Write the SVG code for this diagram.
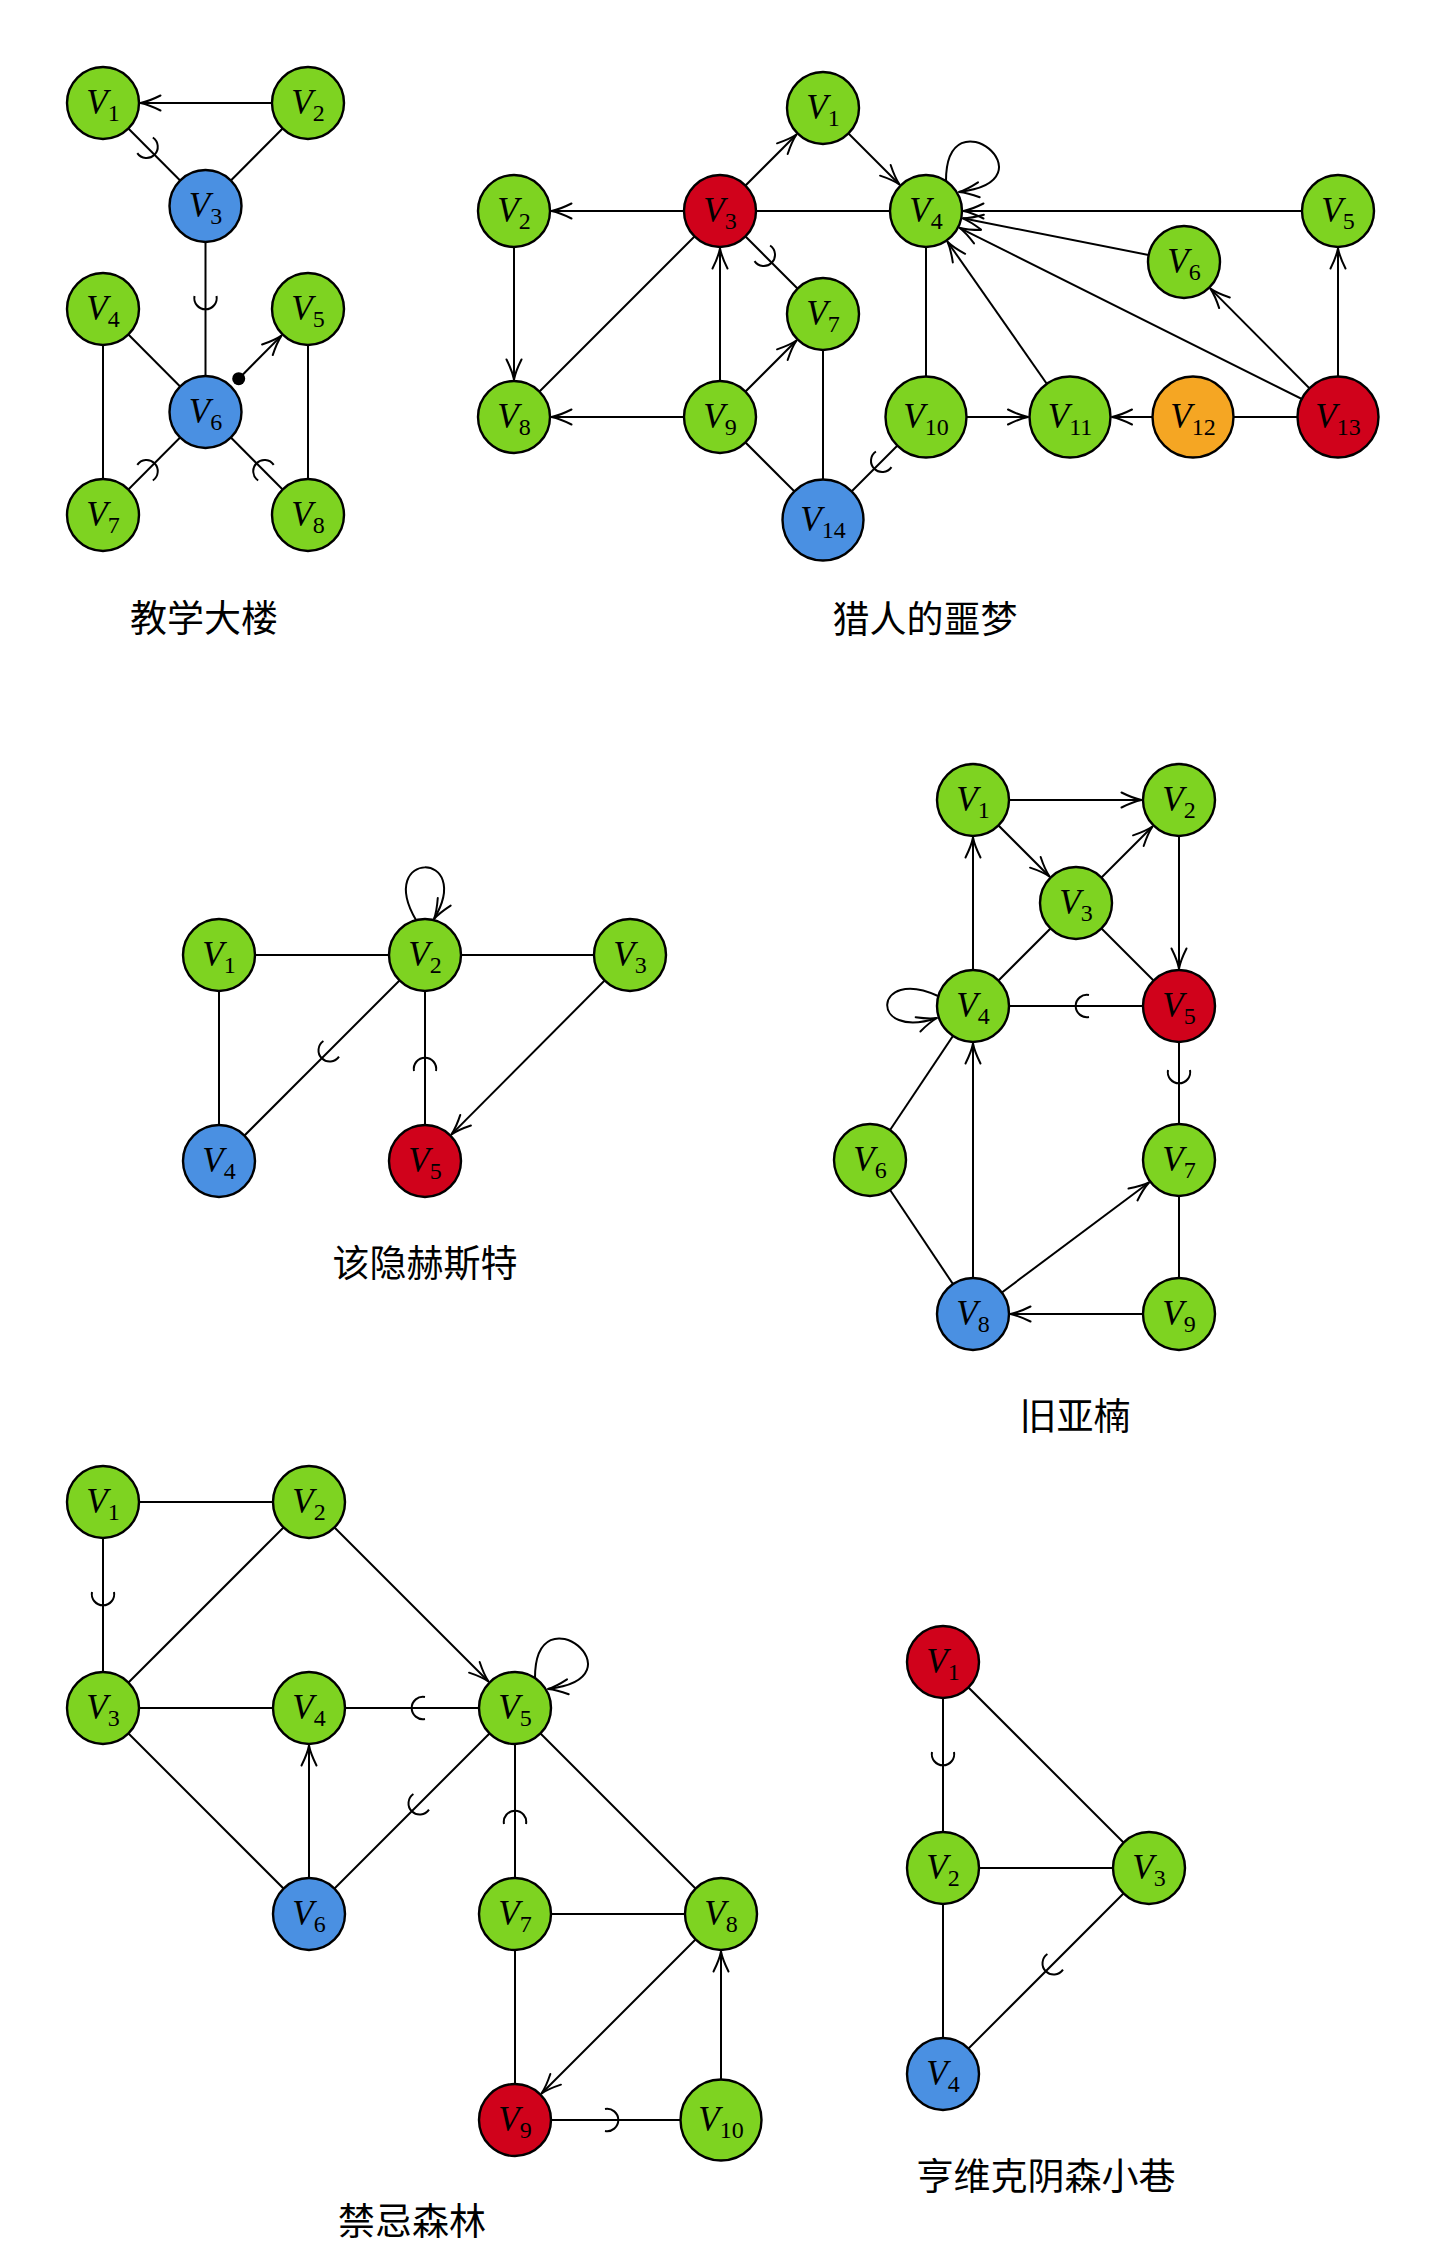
<svg xmlns="http://www.w3.org/2000/svg" width="1440" height="2264" viewBox="0 0 1440 2264">
<style>
.nd{stroke:#000;stroke-width:2.4}
.gr{fill:#7ED321}.bl{fill:#4A90E2}.rd{fill:#D0021B}.or{fill:#F5A623}
.lb{font-family:"Liberation Serif","DejaVu Serif",serif;font-size:35px;font-style:italic;text-anchor:middle;fill:#000}
.sb{font-size:24px;font-style:normal}
.e{stroke:#000;stroke-width:2;fill:none}
.tt{font-family:"Noto Sans CJK SC","Noto Sans",sans-serif;font-size:37px;text-anchor:middle;fill:#000}
</style>
<defs>
<marker id="arr" viewBox="-22 -10 24 20" refX="0" refY="0" markerWidth="24" markerHeight="20" markerUnits="userSpaceOnUse" orient="auto" overflow="visible">
<path d="M-20,-7.5 C-12,-3.5 -4,-0.8 0,0 C-4,0.8 -12,3.5 -20,7.5" fill="none" stroke="#000" stroke-width="2" stroke-linecap="round" stroke-linejoin="round"/>
</marker>
<path id="am" d="M-13,-11 A11.2,11.2 0 1 1 -13,11" fill="none" stroke="#000" stroke-width="2"/>
</defs>
<rect width="1440" height="2264" fill="#fff"/>

<g id="connectors">
<!-- Graph 1 -->
<line class="e" x1="103" y1="103" x2="205.5" y2="206"/>
<line class="e" x1="308" y1="103" x2="205.5" y2="206"/>
<line class="e" x1="205.5" y1="206" x2="205.5" y2="412"/>
<line class="e" x1="103" y1="309" x2="205.5" y2="412"/>
<line class="e" x1="103" y1="309" x2="103" y2="515"/>
<line class="e" x1="308" y1="309" x2="308" y2="515"/>
<line class="e" x1="103" y1="515" x2="205.5" y2="412"/>
<line class="e" x1="308" y1="515" x2="205.5" y2="412"/>
<line class="e" x1="308" y1="103" x2="140.5" y2="103" marker-end="url(#arr)"/>
<line class="e" x1="238.7" y1="378.7" x2="281.5" y2="335.6" marker-end="url(#arr)"/>
<circle cx="238.7" cy="378.7" r="6.5" fill="#000"/>
<use href="#am" transform="translate(154.25,154.5) rotate(45)"/>
<use href="#am" transform="translate(205.5,309) rotate(90)"/>
<use href="#am" transform="translate(154.25,463.5) rotate(-45)"/>
<use href="#am" transform="translate(256.75,463.5) rotate(-135)"/>

<!-- Graph 2 -->
<line class="e" x1="720" y1="211" x2="926" y2="211"/>
<line class="e" x1="720" y1="211" x2="514" y2="417"/>
<line class="e" x1="720" y1="211" x2="823" y2="314"/>
<line class="e" x1="720" y1="417" x2="823" y2="520"/>
<line class="e" x1="823" y1="314" x2="823" y2="520"/>
<line class="e" x1="926" y1="417" x2="823" y2="520"/>
<line class="e" x1="926" y1="211" x2="926" y2="417"/>
<line class="e" x1="1193" y1="417" x2="1338" y2="417"/>
<line class="e" x1="720" y1="211" x2="796.5" y2="134.5" marker-end="url(#arr)"/>
<line class="e" x1="823" y1="108" x2="899.5" y2="184.5" marker-end="url(#arr)"/>
<line class="e" x1="720" y1="211" x2="551.5" y2="211" marker-end="url(#arr)"/>
<line class="e" x1="514" y1="211" x2="514" y2="379.5" marker-end="url(#arr)"/>
<line class="e" x1="720" y1="417" x2="720" y2="248.5" marker-end="url(#arr)"/>
<line class="e" x1="720" y1="417" x2="796.5" y2="340.5" marker-end="url(#arr)"/>
<line class="e" x1="720" y1="417" x2="551.5" y2="417" marker-end="url(#arr)"/>
<line class="e" x1="926" y1="417" x2="1028" y2="417" marker-end="url(#arr)"/>
<line class="e" x1="1070" y1="417" x2="947.5" y2="241.7" marker-end="url(#arr)"/>
<line class="e" x1="1193" y1="417" x2="1112" y2="417" marker-end="url(#arr)"/>
<line class="e" x1="1338" y1="211" x2="963.5" y2="211" marker-end="url(#arr)"/>
<line class="e" x1="1184" y1="262" x2="962.8" y2="218.3" marker-end="url(#arr)"/>
<line class="e" x1="1338" y1="417" x2="959.5" y2="227.8" marker-end="url(#arr)"/>
<line class="e" x1="1338" y1="417" x2="1210.4" y2="288.6" marker-end="url(#arr)"/>
<line class="e" x1="1338" y1="417" x2="1338" y2="248.5" marker-end="url(#arr)"/>
<path class="e" d="M946,181 C946,91 1056,181 959,192" marker-end="url(#arr)"/>
<use href="#am" transform="translate(771.5,262.5) rotate(45)"/>
<use href="#am" transform="translate(874.5,468.5) rotate(135)"/>

<!-- Graph 3 -->
<line class="e" x1="219" y1="955" x2="425" y2="955"/>
<line class="e" x1="425" y1="955" x2="630" y2="955"/>
<line class="e" x1="219" y1="955" x2="219" y2="1161"/>
<line class="e" x1="425" y1="955" x2="219" y2="1161"/>
<line class="e" x1="425" y1="955" x2="425" y2="1161"/>
<line class="e" x1="630" y1="955" x2="451.5" y2="1134.4" marker-end="url(#arr)"/>
<path class="e" d="M416,920 C375,850 475,850 434,919" marker-end="url(#arr)"/>
<use href="#am" transform="translate(322,1058) rotate(135)"/>
<use href="#am" transform="translate(425,1058) rotate(-90)"/>

<!-- Graph 4 -->
<line class="e" x1="1076" y1="903" x2="1179" y2="1006"/>
<line class="e" x1="1076" y1="903" x2="973" y2="1006"/>
<line class="e" x1="973" y1="1006" x2="1179" y2="1006"/>
<line class="e" x1="1179" y1="1006" x2="1179" y2="1160"/>
<line class="e" x1="870" y1="1160" x2="973" y2="1006"/>
<line class="e" x1="870" y1="1160" x2="973" y2="1314"/>
<line class="e" x1="1179" y1="1160" x2="1179" y2="1314"/>
<line class="e" x1="973" y1="800" x2="1141.5" y2="800" marker-end="url(#arr)"/>
<line class="e" x1="973" y1="800" x2="1049.5" y2="876.5" marker-end="url(#arr)"/>
<line class="e" x1="1076" y1="903" x2="1152.5" y2="826.5" marker-end="url(#arr)"/>
<line class="e" x1="1179" y1="800" x2="1179" y2="968.5" marker-end="url(#arr)"/>
<line class="e" x1="973" y1="1006" x2="973" y2="837.5" marker-end="url(#arr)"/>
<line class="e" x1="973" y1="1314" x2="973" y2="1043.5" marker-end="url(#arr)"/>
<line class="e" x1="973" y1="1314" x2="1149" y2="1182.5" marker-end="url(#arr)"/>
<line class="e" x1="1179" y1="1314" x2="1010.5" y2="1314" marker-end="url(#arr)"/>
<path class="e" d="M938,996 C873,966 868,1041 937,1018" marker-end="url(#arr)"/>
<use href="#am" transform="translate(1076,1006) rotate(180)"/>
<use href="#am" transform="translate(1179,1083) rotate(90)"/>

<!-- Graph 5 -->
<line class="e" x1="103" y1="1502" x2="309" y2="1502"/>
<line class="e" x1="103" y1="1502" x2="103" y2="1708"/>
<line class="e" x1="309" y1="1502" x2="103" y2="1708"/>
<line class="e" x1="103" y1="1708" x2="309" y2="1708"/>
<line class="e" x1="103" y1="1708" x2="309" y2="1914"/>
<line class="e" x1="309" y1="1708" x2="515" y2="1708"/>
<line class="e" x1="515" y1="1708" x2="309" y2="1914"/>
<line class="e" x1="515" y1="1708" x2="515" y2="1914"/>
<line class="e" x1="515" y1="1708" x2="721" y2="1914"/>
<line class="e" x1="515" y1="1914" x2="721" y2="1914"/>
<line class="e" x1="515" y1="1914" x2="515" y2="2120"/>
<line class="e" x1="515" y1="2120" x2="721" y2="2120"/>
<line class="e" x1="309" y1="1502" x2="488.5" y2="1681.5" marker-end="url(#arr)"/>
<line class="e" x1="309" y1="1914" x2="309" y2="1745.5" marker-end="url(#arr)"/>
<line class="e" x1="721" y1="1914" x2="541.5" y2="2093.5" marker-end="url(#arr)"/>
<line class="e" x1="721" y1="2120" x2="721" y2="1951.5" marker-end="url(#arr)"/>
<path class="e" d="M535,1678 C535,1588 645,1678 548,1689" marker-end="url(#arr)"/>
<use href="#am" transform="translate(103,1605) rotate(90)"/>
<use href="#am" transform="translate(412,1708) rotate(180)"/>
<use href="#am" transform="translate(412,1811) rotate(135)"/>
<use href="#am" transform="translate(515,1811) rotate(-90)"/>
<use href="#am" transform="translate(618,2120) rotate(0)"/>

<!-- Graph 6 -->
<line class="e" x1="943" y1="1662" x2="943" y2="1868"/>
<line class="e" x1="943" y1="1662" x2="1149" y2="1868"/>
<line class="e" x1="943" y1="1868" x2="1149" y2="1868"/>
<line class="e" x1="943" y1="1868" x2="943" y2="2074"/>
<line class="e" x1="1149" y1="1868" x2="943" y2="2074"/>
<use href="#am" transform="translate(943,1765) rotate(90)"/>
<use href="#am" transform="translate(1046,1971) rotate(135)"/>
</g>

<!-- Graph 1 nodes -->
<g id="g1-v1"><circle class="nd gr" cx="103" cy="103" r="36"/><text class="lb" x="103" y="114">V<tspan class="sb" dy="7">1</tspan></text></g>
<g id="g1-v2"><circle class="nd gr" cx="308" cy="103" r="36"/><text class="lb" x="308" y="114">V<tspan class="sb" dy="7">2</tspan></text></g>
<g id="g1-v3"><circle class="nd bl" cx="205.5" cy="206" r="36"/><text class="lb" x="205.5" y="217">V<tspan class="sb" dy="7">3</tspan></text></g>
<g id="g1-v4"><circle class="nd gr" cx="103" cy="309" r="36"/><text class="lb" x="103" y="320">V<tspan class="sb" dy="7">4</tspan></text></g>
<g id="g1-v5"><circle class="nd gr" cx="308" cy="309" r="36"/><text class="lb" x="308" y="320">V<tspan class="sb" dy="7">5</tspan></text></g>
<g id="g1-v6"><circle class="nd bl" cx="205.5" cy="412" r="36"/><text class="lb" x="205.5" y="423">V<tspan class="sb" dy="7">6</tspan></text></g>
<g id="g1-v7"><circle class="nd gr" cx="103" cy="515" r="36"/><text class="lb" x="103" y="526">V<tspan class="sb" dy="7">7</tspan></text></g>
<g id="g1-v8"><circle class="nd gr" cx="308" cy="515" r="36"/><text class="lb" x="308" y="526">V<tspan class="sb" dy="7">8</tspan></text></g>
<text id="title-1" class="tt" x="204" y="632">教学大楼</text>

<!-- Graph 2 nodes -->
<g id="g2-v1"><circle class="nd gr" cx="823" cy="108" r="36"/><text class="lb" x="823" y="119">V<tspan class="sb" dy="7">1</tspan></text></g>
<g id="g2-v2"><circle class="nd gr" cx="514" cy="211" r="36"/><text class="lb" x="514" y="222">V<tspan class="sb" dy="7">2</tspan></text></g>
<g id="g2-v3"><circle class="nd rd" cx="720" cy="211" r="36"/><text class="lb" x="720" y="222">V<tspan class="sb" dy="7">3</tspan></text></g>
<g id="g2-v4"><circle class="nd gr" cx="926" cy="211" r="36"/><text class="lb" x="926" y="222">V<tspan class="sb" dy="7">4</tspan></text></g>
<g id="g2-v5"><circle class="nd gr" cx="1338" cy="211" r="36"/><text class="lb" x="1338" y="222">V<tspan class="sb" dy="7">5</tspan></text></g>
<g id="g2-v6"><circle class="nd gr" cx="1184" cy="262" r="36"/><text class="lb" x="1184" y="273">V<tspan class="sb" dy="7">6</tspan></text></g>
<g id="g2-v7"><circle class="nd gr" cx="823" cy="314" r="36"/><text class="lb" x="823" y="325">V<tspan class="sb" dy="7">7</tspan></text></g>
<g id="g2-v8"><circle class="nd gr" cx="514" cy="417" r="36"/><text class="lb" x="514" y="428">V<tspan class="sb" dy="7">8</tspan></text></g>
<g id="g2-v9"><circle class="nd gr" cx="720" cy="417" r="36"/><text class="lb" x="720" y="428">V<tspan class="sb" dy="7">9</tspan></text></g>
<g id="g2-v10"><circle class="nd gr" cx="926" cy="417" r="40.5"/><text class="lb" x="926" y="428">V<tspan class="sb" dy="7">10</tspan></text></g>
<g id="g2-v11"><circle class="nd gr" cx="1070" cy="417" r="40.5"/><text class="lb" x="1070" y="428">V<tspan class="sb" dy="7">11</tspan></text></g>
<g id="g2-v12"><circle class="nd or" cx="1193" cy="417" r="40.5"/><text class="lb" x="1193" y="428">V<tspan class="sb" dy="7">12</tspan></text></g>
<g id="g2-v13"><circle class="nd rd" cx="1338" cy="417" r="40.5"/><text class="lb" x="1338" y="428">V<tspan class="sb" dy="7">13</tspan></text></g>
<g id="g2-v14"><circle class="nd bl" cx="823" cy="520" r="40.5"/><text class="lb" x="823" y="531">V<tspan class="sb" dy="7">14</tspan></text></g>
<text id="title-2" class="tt" x="925" y="633">猎人的噩梦</text>

<!-- Graph 3 nodes -->
<g id="g3-v1"><circle class="nd gr" cx="219" cy="955" r="36"/><text class="lb" x="219" y="966">V<tspan class="sb" dy="7">1</tspan></text></g>
<g id="g3-v2"><circle class="nd gr" cx="425" cy="955" r="36"/><text class="lb" x="425" y="966">V<tspan class="sb" dy="7">2</tspan></text></g>
<g id="g3-v3"><circle class="nd gr" cx="630" cy="955" r="36"/><text class="lb" x="630" y="966">V<tspan class="sb" dy="7">3</tspan></text></g>
<g id="g3-v4"><circle class="nd bl" cx="219" cy="1161" r="36"/><text class="lb" x="219" y="1172">V<tspan class="sb" dy="7">4</tspan></text></g>
<g id="g3-v5"><circle class="nd rd" cx="425" cy="1161" r="36"/><text class="lb" x="425" y="1172">V<tspan class="sb" dy="7">5</tspan></text></g>
<text id="title-3" class="tt" x="425" y="1277">该隐赫斯特</text>

<!-- Graph 4 nodes -->
<g id="g4-v1"><circle class="nd gr" cx="973" cy="800" r="36"/><text class="lb" x="973" y="811">V<tspan class="sb" dy="7">1</tspan></text></g>
<g id="g4-v2"><circle class="nd gr" cx="1179" cy="800" r="36"/><text class="lb" x="1179" y="811">V<tspan class="sb" dy="7">2</tspan></text></g>
<g id="g4-v3"><circle class="nd gr" cx="1076" cy="903" r="36"/><text class="lb" x="1076" y="914">V<tspan class="sb" dy="7">3</tspan></text></g>
<g id="g4-v4"><circle class="nd gr" cx="973" cy="1006" r="36"/><text class="lb" x="973" y="1017">V<tspan class="sb" dy="7">4</tspan></text></g>
<g id="g4-v5"><circle class="nd rd" cx="1179" cy="1006" r="36"/><text class="lb" x="1179" y="1017">V<tspan class="sb" dy="7">5</tspan></text></g>
<g id="g4-v6"><circle class="nd gr" cx="870" cy="1160" r="36"/><text class="lb" x="870" y="1171">V<tspan class="sb" dy="7">6</tspan></text></g>
<g id="g4-v7"><circle class="nd gr" cx="1179" cy="1160" r="36"/><text class="lb" x="1179" y="1171">V<tspan class="sb" dy="7">7</tspan></text></g>
<g id="g4-v8"><circle class="nd bl" cx="973" cy="1314" r="36"/><text class="lb" x="973" y="1325">V<tspan class="sb" dy="7">8</tspan></text></g>
<g id="g4-v9"><circle class="nd gr" cx="1179" cy="1314" r="36"/><text class="lb" x="1179" y="1325">V<tspan class="sb" dy="7">9</tspan></text></g>
<text id="title-4" class="tt" x="1075" y="1430">旧亚楠</text>

<!-- Graph 5 nodes -->
<g id="g5-v1"><circle class="nd gr" cx="103" cy="1502" r="36"/><text class="lb" x="103" y="1513">V<tspan class="sb" dy="7">1</tspan></text></g>
<g id="g5-v2"><circle class="nd gr" cx="309" cy="1502" r="36"/><text class="lb" x="309" y="1513">V<tspan class="sb" dy="7">2</tspan></text></g>
<g id="g5-v3"><circle class="nd gr" cx="103" cy="1708" r="36"/><text class="lb" x="103" y="1719">V<tspan class="sb" dy="7">3</tspan></text></g>
<g id="g5-v4"><circle class="nd gr" cx="309" cy="1708" r="36"/><text class="lb" x="309" y="1719">V<tspan class="sb" dy="7">4</tspan></text></g>
<g id="g5-v5"><circle class="nd gr" cx="515" cy="1708" r="36"/><text class="lb" x="515" y="1719">V<tspan class="sb" dy="7">5</tspan></text></g>
<g id="g5-v6"><circle class="nd bl" cx="309" cy="1914" r="36"/><text class="lb" x="309" y="1925">V<tspan class="sb" dy="7">6</tspan></text></g>
<g id="g5-v7"><circle class="nd gr" cx="515" cy="1914" r="36"/><text class="lb" x="515" y="1925">V<tspan class="sb" dy="7">7</tspan></text></g>
<g id="g5-v8"><circle class="nd gr" cx="721" cy="1914" r="36"/><text class="lb" x="721" y="1925">V<tspan class="sb" dy="7">8</tspan></text></g>
<g id="g5-v9"><circle class="nd rd" cx="515" cy="2120" r="36"/><text class="lb" x="515" y="2131">V<tspan class="sb" dy="7">9</tspan></text></g>
<g id="g5-v10"><circle class="nd gr" cx="721" cy="2120" r="40.5"/><text class="lb" x="721" y="2131">V<tspan class="sb" dy="7">10</tspan></text></g>
<text id="title-5" class="tt" x="412" y="2235">禁忌森林</text>

<!-- Graph 6 nodes -->
<g id="g6-v1"><circle class="nd rd" cx="943" cy="1662" r="36"/><text class="lb" x="943" y="1673">V<tspan class="sb" dy="7">1</tspan></text></g>
<g id="g6-v2"><circle class="nd gr" cx="943" cy="1868" r="36"/><text class="lb" x="943" y="1879">V<tspan class="sb" dy="7">2</tspan></text></g>
<g id="g6-v3"><circle class="nd gr" cx="1149" cy="1868" r="36"/><text class="lb" x="1149" y="1879">V<tspan class="sb" dy="7">3</tspan></text></g>
<g id="g6-v4"><circle class="nd bl" cx="943" cy="2074" r="36"/><text class="lb" x="943" y="2085">V<tspan class="sb" dy="7">4</tspan></text></g>
<text id="title-6" class="tt" x="1046" y="2190">亨维克阴森小巷</text>
</svg>
